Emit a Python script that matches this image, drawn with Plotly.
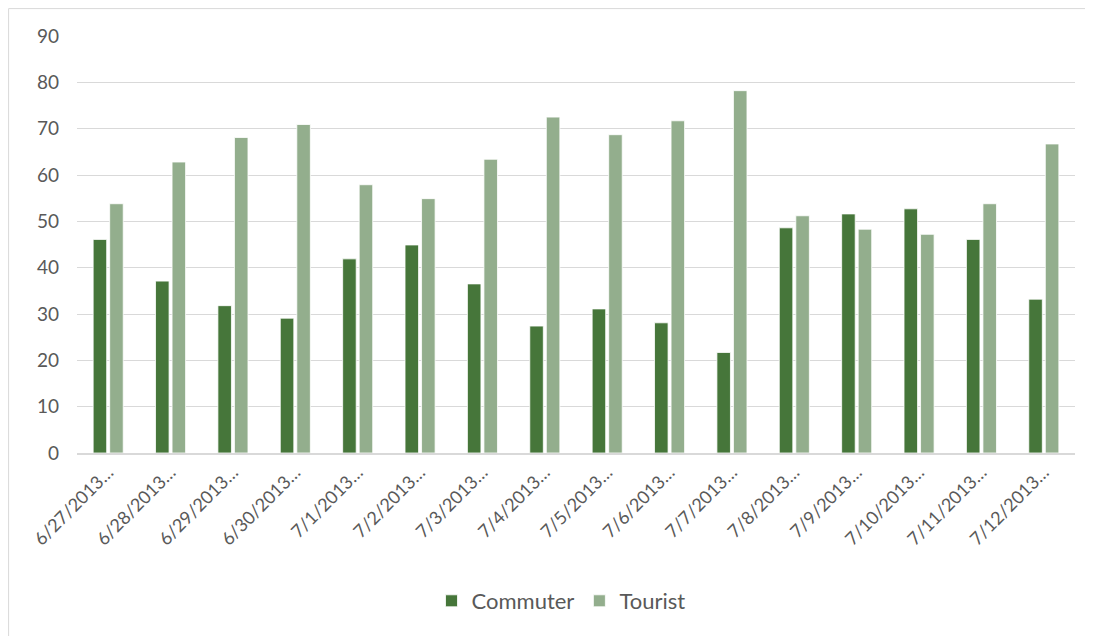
import plotly.graph_objects as go

categories = ["6/27/2013…", "6/28/2013…", "6/29/2013…", "6/30/2013…", "7/1/2013…",
              "7/2/2013…", "7/3/2013…", "7/4/2013…", "7/5/2013…", "7/6/2013…",
              "7/7/2013…", "7/8/2013…", "7/9/2013…", "7/10/2013…", "7/11/2013…", "7/12/2013…"]
commuter = [46.1, 37.1, 31.8, 29.1, 41.9, 44.9, 36.5, 27.4, 31.1, 28.1, 21.7, 48.6, 51.6, 52.7, 46.1, 33.2]
tourist = [53.8, 62.8, 68.1, 70.9, 57.9, 54.9, 63.4, 72.5, 68.7, 71.7, 78.2, 51.2, 48.3, 47.2, 53.8, 66.7]
y_ticks = [0, 10, 20, 30, 40, 50, 60, 70, 80, 90]

# page body has an 8px margin; work in figure pixel coordinates
OFF = 8
W, H = 1093 - OFF, 636 - OFF
L, R, T, B = 77 - OFF, 1075 - OFF, 36 - OFF, 453 - OFF

fig = go.Figure()
fig.add_trace(go.Bar(name="Commuter", x=categories, y=commuter,
                     marker=dict(color="#46763A", line=dict(color="#FFFFFF", width=0.8))))
fig.add_trace(go.Bar(name="Tourist", x=categories, y=tourist,
                     marker=dict(color="#93AE8D", line=dict(color="#FFFFFF", width=0.8))))

font = dict(family="Lato, Liberation Sans, sans-serif", size=18, color="#595959")

fig.update_layout(
    width=W, height=H,
    margin=dict(l=L, r=W - R, t=T, b=H - B, autoexpand=False),
    paper_bgcolor="white", plot_bgcolor="white",
    barmode="group", bargap=0.47, bargroupgap=0.18,
    font=font,
    showlegend=True,
    legend=dict(orientation="h", x=(561 - 77) / 998, xanchor="center",
                y=(453 - 601) / (453 - 36), yanchor="middle",
                font=dict(family="Lato, Liberation Sans, sans-serif", size=22, color="#595959"),
                itemwidth=30, traceorder="normal"),
    xaxis=dict(tickangle=-45, showgrid=False, showline=True, linecolor="#D9D9D9", linewidth=1.5,
               ticks="", tickfont=dict(size=18, color="#595959"), automargin=False),
    yaxis=dict(range=[0, 90], tickvals=y_ticks, showgrid=True, gridcolor="#D9D9D9", gridwidth=1,
               zeroline=False, showline=False, ticks="", ticklabelstandoff=17,
               tickfont=dict(size=19, color="#595959"), automargin=False),
    shapes=[dict(type="rect", xref="paper", yref="paper",
                 x0=(8.6 - 77) / 998, x1=(1110 - 77) / 998,
                 y0=(453 - 650) / 417, y1=(453 - 8.6) / 417,
                 line=dict(color="#D9D9D9", width=1), fillcolor="rgba(0,0,0,0)", layer="below")],
)

fig.write_html("out.html")
